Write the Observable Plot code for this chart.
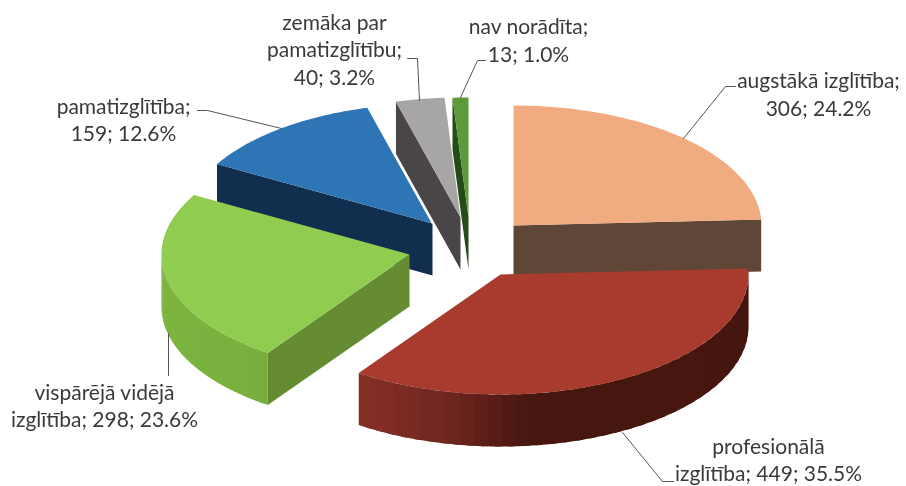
<!DOCTYPE html>
<html>
<head>
<meta charset="utf-8">
<style>html,body{margin:0;padding:0;background:#fff;}</style>
<script src="https://cdn.jsdelivr.net/npm/d3@7"></script>
<script src="https://cdn.jsdelivr.net/npm/@observablehq/plot@0.6"></script>
</head>
<body>
<div id="chart"></div>
<script>
// Data
const categories = ["augstākā izglītība","profesionālā izglītība","vispārējā vidējā izglītība","pamatizglītība","zemāka par pamatizglītību","nav norādīta"];
const counts = [306, 449, 298, 159, 40, 13];
const labels = [
  "augstākā izglītība;\n306; 24.2%",
  "profesionālā\nizglītība; 449; 35.5%",
  "vispārējā vidējā\nizglītība; 298; 23.6%",
  "pamatizglītība;\n159; 12.6%",
  "zemāka par\npamatizglītību;\n40; 3.2%",
  "nav norādīta;\n13; 1.0%"
];
// Exploded-pie layout (screen units)
const centerX = [513, 500, 409, 432, 460, 468];
const centerY = [225, 274, 254, 223, 217, 217];
const radiusX = 248, radiusY = 120, depth = 52;
const topColors = ["#F0AB80","#A83B2E","#8FCC50","#2E75B6","#A8A5A5","#5C9A3A"];
const wallColors = ["#5F4636","#45160F","#658C33","#122E4E","#4A4546","#234C18"];
const drawOrder = [4, 5, 3, 0, 2, 1];
const labelX = [818, 768, 104, 123, 334, 528];
const labelY = [92.5, 458, 404, 118, 48, 38.5];
const leaderX = [[683,725,735],[622,662,673],[168,168],[281,207,197],[419,417,407],[460,477,485]];
const leaderY = [[138,86,86],[432,481,481],[333,375],[128,110,110],[100,58,58],[97,60,60]];

// Geometry derived from the values
const total = d3.sum(counts);
const cum = d3.cumsum(counts);
const ang = i => [(i ? cum[i - 1] : 0) / total * 2 * Math.PI, cum[i] / total * 2 * Math.PI];
const pt = (i, a, dz = 0) => ({x: centerX[i] + radiusX * Math.sin(a), y: centerY[i] - radiusY * Math.cos(a) + dz});
const apex = (i, dz = 0) => ({x: centerX[i], y: centerY[i] + dz});

const redShade = d3.scaleLinear().domain([358, 450, 525, 760]).range(["#872F26", "#6F2620", "#47170F", "#45160F"]);
const greenShade = d3.scaleLinear().domain([161, 200, 267]).range(["#7EB541", "#7AB23F", "#78AE3D"]);

const rows = [];
let nid = 0;
const poly = (pts, color) => { const id = nid++; pts.forEach(p => rows.push({id, color, x: p.x, y: p.y})); };
const arcPts = (i, a0, a1, dz = 0) => d3.range(0, 61).map(k => pt(i, a0 + (a1 - a0) * k / 60, dz));

for (const i of drawOrder) {
  const [a0, a1] = ang(i);
  if (i === 1 || i === 2) {
    const to = i === 1 ? a1 : 1.5 * Math.PI;
    const steps = 40;
    const dA = (to - a0) / steps;
    // each band overlaps the next one, so no seams show; arc-following edges
    for (let k = 0; k < steps; k++) {
      const b0 = a0 + dA * k, b1 = Math.min(to, b0 + dA * 1.5);
      const mid = pt(i, b0 + dA / 2);
      const top = d3.range(0, 5).map(q => pt(i, b0 + (b1 - b0) * q / 4));
      const bot = d3.range(4, -1, -1).map(q => pt(i, b0 + (b1 - b0) * q / 4, depth));
      poly([...top, ...bot], i === 1 ? redShade(mid.x) : greenShade(mid.x));
    }
  }
  // radial wall facing the viewer
  if (i !== 1) {
    const a = i === 0 ? a1 : a0;
    poly([apex(i), pt(i, a), pt(i, a, depth), apex(i, depth)], wallColors[i]);
  }
  poly([apex(i), ...arcPts(i, a0, a1)], topColors[i]);
}

// thin white separator along the blue slice's edge
const blueEdge = [apex(3), pt(3, ang(3)[1])];
const leaders = leaderX.flatMap((xs, s) => xs.map((x, k) => ({s, x, y: leaderY[s][k]})));
const labelRows = labels.map((t, i) => ({t, x: labelX[i], y: labelY[i]}));

const chart = Plot.plot({
  width: 906, height: 486,
  margin: 0,
  x: {domain: [0, 906], range: [0, 906], axis: null},
  y: {domain: [0, 486], range: [0, 486], axis: null},
  color: {type: "identity"},
  style: {background: "#fff", fontFamily: "Lato, sans-serif", filter: "blur(0.4px)"},
  marks: [
    Plot.line(rows, {x: "x", y: "y", z: "id", fill: "color", stroke: "none", curve: "linear-closed"}),
    Plot.line(blueEdge, {x: "x", y: "y", stroke: "#fff", strokeWidth: 1.4}),
    Plot.line(leaders, {x: "x", y: "y", z: "s", stroke: "#555", strokeWidth: 1}),
    Plot.text(labelRows, {x: "x", y: "y", text: "t", fontSize: 21, lineHeight: 1.31, fill: "#3a3a3a", textAnchor: "middle", lineAnchor: "middle"})
  ]
});
document.getElementById("chart").appendChild(chart);
</script>
</body>
</html>
